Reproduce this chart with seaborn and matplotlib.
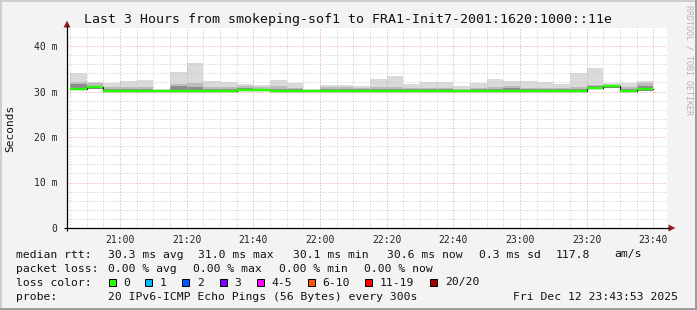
import matplotlib
matplotlib.use("Agg")
import matplotlib.pyplot as plt
import seaborn as sns
import pandas as pd
from matplotlib.patches import Polygon, Rectangle

# ---------------- data ----------------
bin_starts = ["20:45", "20:50", "20:55", "21:00", "21:05", "21:10", "21:15", "21:20",
              "21:25", "21:30", "21:35", "21:40", "21:45", "21:50", "21:55", "22:00",
              "22:05", "22:10", "22:15", "22:20", "22:25", "22:30", "22:35", "22:40",
              "22:45", "22:50", "22:55", "23:00", "23:05", "23:10", "23:15", "23:20",
              "23:25", "23:30", "23:35"]
last_end = "23:40"

rtt_median = [30.6, 31.0, 30.2, 30.2, 30.2, 30.1, 30.2, 30.2, 30.2, 30.2, 30.4, 30.4,
              30.2, 30.2, 30.1, 30.2, 30.2, 30.2, 30.2, 30.2, 30.1, 30.2, 30.2, 30.2,
              30.2, 30.2, 30.2, 30.2, 30.2, 30.1, 30.2, 30.8, 31.1, 30.2, 30.6]
rtt_max = [34.1, 32.1, 31.9, 32.3, 32.5, 30.6, 34.3, 36.3, 32.3, 32.1, 31.6, 31.4,
           32.5, 31.9, 30.6, 31.4, 31.4, 31.2, 32.8, 33.3, 31.6, 32.1, 32.1, 31.2,
           31.9, 32.7, 32.2, 32.2, 32.1, 31.6, 34.1, 35.2, 31.9, 31.9, 32.4]
rtt_upper = [32.1, 31.8, 30.9, 31.0, 31.0, 30.4, 31.6, 31.8, 30.9, 31.0, 31.1, 30.9,
             31.1, 30.8, 30.4, 30.9, 30.9, 30.7, 31.0, 30.9, 30.7, 30.8, 30.8, 30.6,
             30.8, 30.9, 31.2, 30.8, 30.8, 30.7, 30.9, 31.5, 31.4, 31.0, 31.8]
rtt_inner = [31.6, 31.3, 30.5, 30.6, 30.6, 30.3, 31.1, 31.0, 30.5, 30.6, 30.7, 30.6,
             30.6, 30.5, 30.3, 30.6, 30.6, 30.5, 30.6, 30.6, 30.5, 30.5, 30.5, 30.4,
             30.5, 30.6, 30.7, 30.5, 30.5, 30.5, 30.6, 31.1, 31.2, 30.6, 31.1]
rtt_min = [30.3, 30.6, 30.0, 30.0, 30.0, 30.0, 30.0, 30.0, 30.0, 30.0, 30.1, 30.1,
           30.0, 30.0, 30.0, 30.0, 30.0, 30.0, 30.0, 30.0, 30.0, 30.0, 30.0, 30.0,
           30.0, 30.0, 30.0, 30.0, 30.0, 30.0, 30.0, 30.5, 30.8, 29.9, 30.2]

x_tick_labels = ["21:00", "21:20", "21:40", "22:00", "22:20", "22:40", "23:00", "23:20", "23:40"]
y_ticks = [0, 10, 20, 30, 40]
y_tick_labels = ["0", "10 m", "20 m", "30 m", "40 m"]

title = "Last 3 Hours from smokeping-sof1 to FRA1-Init7-2001:1620:1000::11e"
y_label = "Seconds"
watermark = "RRDTOOL / TOBI OETIKER"

rtt_row_label = "median rtt:"
rtt_items = ["30.3 ms avg", "31.0 ms max", "30.1 ms min", "30.6 ms now", "0.3 ms sd", "117.8", "am/s"]
loss_row_label = "packet loss:"
loss_items = ["0.00 % avg", "0.00 % max", "0.00 % min", "0.00 % now"]
color_row_label = "loss color:"
loss_color_labels = ["0", "1", "2", "3", "4-5", "6-10", "11-19", "20/20"]
loss_colors = ["#26ff00", "#00b8ff", "#0059ff", "#7e00ff", "#ff00ff", "#ff5500", "#ff0000", "#a10000"]
probe_label = "probe:"
probe_text = "20 IPv6-ICMP Echo Pings (56 Bytes) every 300s"
date_text = "Fri Dec 12 23:43:53 2025"

# ---------------- helpers ----------------
def to_min(s):
    h, m = s.split(":")
    return int(h) * 60 + int(m) - 20 * 60

W, H = 697, 310
sns.set_style("white")
plt.rcParams["font.family"] = ["DejaVu Sans Mono"]

fig = plt.figure(figsize=(W / 100, H / 100), dpi=100, facecolor="#f3f3f3")
L, R, T, B = 67, 667, 28, 228
ax = fig.add_axes([L / W, 1 - B / H, (R - L) / W, (B - T) / H])
ax.set_facecolor("white")

starts = [to_min(s) for s in bin_starts]
ends = starts[1:] + [to_min(last_end)]
xs = starts + [to_min(last_end)]

def ext(v):
    return list(v) + [v[-1]]

df = pd.DataFrame({"t": xs, "median": ext(rtt_median), "max": ext(rtt_max),
                   "upper": ext(rtt_upper), "inner": ext(rtt_inner), "min": ext(rtt_min)})

# smoke
ax.fill_between(df["t"], df["min"], df["max"], step="post", color="#dadada", lw=0, zorder=1)
ax.fill_between(df["t"], df["min"], df["upper"], step="post", color="#bcbcbc", lw=0, zorder=1.1)
ax.fill_between(df["t"], df["min"], df["inner"], step="post", color="#8c8c8c", lw=0, zorder=1.2)

# median: dark step outline + green horizontal segments
sns.lineplot(data=df, x="t", y="median", drawstyle="steps-post", color="#222222",
             lw=0.9, ax=ax, zorder=3, sort=False)
ax.hlines(rtt_median, starts, ends, colors=loss_colors[0], lw=1.7, zorder=4,
          capstyle="butt")

# axes limits / grid
x0 = to_min("21:00") - 53 * 0.3
ax.set_xlim(x0, x0 + 180)
ax.set_ylim(0, (B - T) / 4.55)
major_x = [to_min(s) for s in x_tick_labels]
ax.set_xticks(major_x)
ax.set_xticklabels(x_tick_labels)
ax.set_xticks(list(range(45, 225, 5)), minor=True)
ax.set_yticks(y_ticks)
ax.set_yticklabels(y_tick_labels)
ax.set_yticks(list(range(0, 44, 2)), minor=True)
ax.set_axisbelow(False)
ax.grid(which="minor", color="#c8c8c8", lw=0.72, linestyle=(0, (1, 2)), zorder=2.5)
ax.grid(which="major", color="#f09a9a", lw=0.72, linestyle=(0, (1, 2)), zorder=2.6)
ax.tick_params(axis="both", which="both", direction="out", length=2.2, width=0.72,
               colors="#c8c8c8", labelcolor="#222222", labelsize=7)
ax.tick_params(axis="y", which="major", pad=4.5, colors="#f09a9a", labelcolor="#222222")
ax.tick_params(axis="x", which="major", pad=2.5, colors="#f09a9a", labelcolor="#222222")
ax.set_xlabel("")
ax.set_ylabel("")
for s in ax.spines.values():
    s.set_visible(False)

# ---------------- overlay in pixel coordinates ----------------
ov = fig.add_axes([0, 0, 1, 1])
ov.set_xlim(0, W)
ov.set_ylim(H, 0)
ov.axis("off")
ov.patch.set_alpha(0)

# frame shading
ov.plot([0, W], [1, 1], color="#cfcfcf", lw=1.44, solid_capstyle="butt")
ov.plot([1, 1], [0, H], color="#cfcfcf", lw=1.44, solid_capstyle="butt")
ov.plot([0, W], [H - 1, H - 1], color="#9e9e9e", lw=1.44, solid_capstyle="butt")
ov.plot([W - 1, W - 1], [0, H], color="#9e9e9e", lw=1.44, solid_capstyle="butt")

# axis lines + arrows
ov.plot([L, L], [B + 3, 25], color="black", lw=0.9, solid_capstyle="butt")
ov.plot([L - 3, 670], [B, B], color="black", lw=0.9, solid_capstyle="butt")
ov.add_patch(Polygon([[L - 3.5, 27.5], [L + 3.5, 27.5], [L, 20.5]], closed=True,
                     color="#a02020", lw=0))
ov.add_patch(Polygon([[668.5, B - 3.5], [668.5, B + 3.5], [675.5, B]], closed=True,
                     color="#a02020", lw=0))

# title, labels, watermark
ov.text(W / 2, 20, title, ha="center", va="center", fontsize=9.5, color="#111111")
ov.text(10, 128, y_label, ha="center", va="center", rotation=90, fontsize=8, color="#111111")
ov.text(688.5, 60, watermark, ha="center", va="center", rotation=-90, fontsize=6,
        color="#b4b4b4")

# legend rows
fs = 8.2
tc = "#111111"
row_y = [254.5, 268.5, 282.5, 296.5]
ov.text(16, row_y[0], rtt_row_label, ha="left", va="center", fontsize=fs, color=tc)
for xp, s in zip([107.5, 198, 293, 387, 479, 556, 614], rtt_items):
    ov.text(xp, row_y[0], s, ha="left", va="center", fontsize=fs, color=tc)
ov.text(16, row_y[1], loss_row_label, ha="left", va="center", fontsize=fs, color=tc)
for xp, s in zip([107.5, 193.3, 279, 364.4], loss_items):
    ov.text(xp, row_y[1], s, ha="left", va="center", fontsize=fs, color=tc)
ov.text(16, row_y[2], color_row_label, ha="left", va="center", fontsize=fs, color=tc)
sw_x = [108.5, 145.3, 182.2, 219.6, 256.9, 307.6, 365.3, 430.2]
for xp, lab, col in zip(sw_x, loss_color_labels, loss_colors):
    ov.add_patch(Rectangle((xp, row_y[2] - 4), 7, 7, facecolor=col, edgecolor="black", lw=0.72))
    ov.text(xp + 14.6, row_y[2], lab, ha="left", va="center", fontsize=fs, color=tc)
ov.text(16, row_y[3], probe_label, ha="left", va="center", fontsize=fs, color=tc)
ov.text(107.5, row_y[3], probe_text, ha="left", va="center", fontsize=fs, color=tc)
ov.text(513.3, row_y[3], date_text, ha="left", va="center", fontsize=fs, color=tc)

fig.savefig("out.png", dpi=100, facecolor=fig.get_facecolor())
